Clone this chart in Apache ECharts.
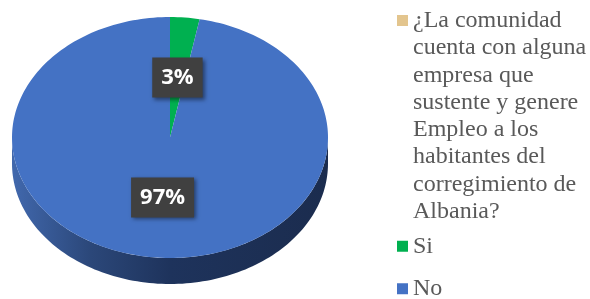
<!DOCTYPE html>
<html lang="es">
<head>
    <meta charset="UTF-8">
    <title>Empresa en Albania</title>
    <script type="text/javascript" src="https://cdn.jsdelivr.net/npm/echarts@6/dist/echarts.min.js"></script>
    <style>
        html, body { margin: 0; padding: 0; background: #fff; }
    </style>
</head>
<body>
    <div id="main" style="width: 590px;height:299px;"></div>

    <script type="text/javascript">
    // datos
    var categories = [
        '¿La comunidad\ncuenta con alguna\nempresa que\nsustente y genere\nEmpleo a los\nhabitantes del\ncorregimiento de\nAlbania?',
        'Si',
        'No'
    ];
    var values = [0, 3, 97];
    var colors = ['#e3c58e', '#00b050', '#4472c4'];

    var DEPTH = 26;   // grosor del pastel 3D, en px
    var LINE = 27.3;  // interlineado de la leyenda
    var SERIF = 'Liberation Serif';

    var total = values.reduce(function (a, b) { return a + b; }, 0);

    // fracciones de inicio/fin de cada porcion (desde las 12, sentido horario)
    var acc = 0;
    var sliceData = values.map(function (v) {
        var s = acc / total;
        acc += v;
        return v > 0 ? [[s, acc / total, Math.round(v / total * 100)]] : [];
    });

    var sideFill = {
        type: 'linear', x: 0, y: 0, x2: 1, y2: 0,
        colorStops: [
            {offset: 0, color: '#4168ad'},
            {offset: 0.25, color: '#2b4779'},
            {offset: 0.5, color: '#1e335c'},
            {offset: 1, color: '#1b2c4e'}
        ]
    };

    function renderSlice(params, api) {
        var s = api.value(0), e = api.value(1);
        var pt = function (f, r) {
            var a = f * 2 * Math.PI;
            return api.coord([r * Math.sin(a), r * Math.cos(a)]);
        };
        var children = [];
        var i;

        // lado visible (mitad inferior de la elipse)
        var a0 = Math.max(s, 0.25), a1 = Math.min(e, 0.75);
        if (a1 > a0) {
            var edge = [];
            var m = Math.ceil((a1 - a0) * 240);
            for (i = 0; i <= m; i++) edge.push(pt(a0 + (a1 - a0) * i / m, 1));
            var low = edge.slice().reverse().map(function (p) { return [p[0], p[1] + DEPTH]; });
            children.push({
                type: 'polygon',
                shape: {points: edge.concat(low)},
                style: {fill: sideFill}
            });
        }

        // cara superior
        var top = [api.coord([0, 0])];
        var n = Math.max(4, Math.ceil((e - s) * 240));
        for (i = 0; i <= n; i++) top.push(pt(s + (e - s) * i / n, 1));
        children.push({
            type: 'polygon',
            shape: {points: top},
            style: {fill: api.visual('color')}
        });

        // etiqueta de porcentaje
        var lp = pt((s + e) / 2, 0.5);
        children.push({
            type: 'text',
            x: lp[0],
            y: lp[1],
            z2: 100,
            style: {
                text: api.value(2) + '%',
                fill: '#ffffff',
                font: 'bold 22px "Open Sans"',
                align: 'center',
                verticalAlign: 'middle',
                lineHeight: 22,
                backgroundColor: '#404040',
                padding: [9, 9, 9, 9],
                shadowColor: 'rgba(0,0,0,0.45)',
                shadowBlur: 4,
                shadowOffsetX: 2,
                shadowOffsetY: 2
            }
        });
        return {type: 'group', children: children};
    }

    var myChart = echarts.init(document.getElementById('main'));

    var tallH = LINE * 8;
    // cuadro arriba de un icono alto, para que quede junto a la primera linea
    var tallIcon = 'path://M0,8h11v11h-11z M0,0h0.01v0.01h-0.01z M0,' + tallH + 'h0.01v-0.01h-0.01z';

    function legendText(lh) {
        return {
            fontFamily: SERIF,
            fontSize: 24,
            color: '#595959',
            lineHeight: lh
        };
    }

    var option = {
        animation: false,
        textStyle: {fontFamily: SERIF},
        grid: {left: 12, top: 17, width: 316, height: 241},
        xAxis: {type: 'value', min: -1, max: 1, show: false},
        yAxis: {type: 'value', min: -1, max: 1, show: false},
        legend: [
            {
                orient: 'vertical',
                left: 397,
                top: 7,
                padding: 0,
                itemWidth: 11,
                itemHeight: tallH,
                icon: tallIcon,
                selectedMode: false,
                textStyle: legendText(LINE),
                data: [categories[0]]
            },
            {
                orient: 'vertical',
                left: 397,
                top: 225,
                height: 100,
                padding: 0,
                itemGap: 0,
                itemWidth: 11,
                itemHeight: 11,
                icon: 'rect',
                selectedMode: false,
                textStyle: legendText(42.5),
                data: [categories[1], categories[2]]
            }
        ],
        series: categories.map(function (name, i) {
            return {
                name: name,
                type: 'custom',
                renderItem: renderSlice,
                itemStyle: {color: colors[i]},
                encode: {x: 0, y: 1},
                data: sliceData[i]
            };
        })
    };

    myChart.setOption(option);
    </script>
</body>
</html>
